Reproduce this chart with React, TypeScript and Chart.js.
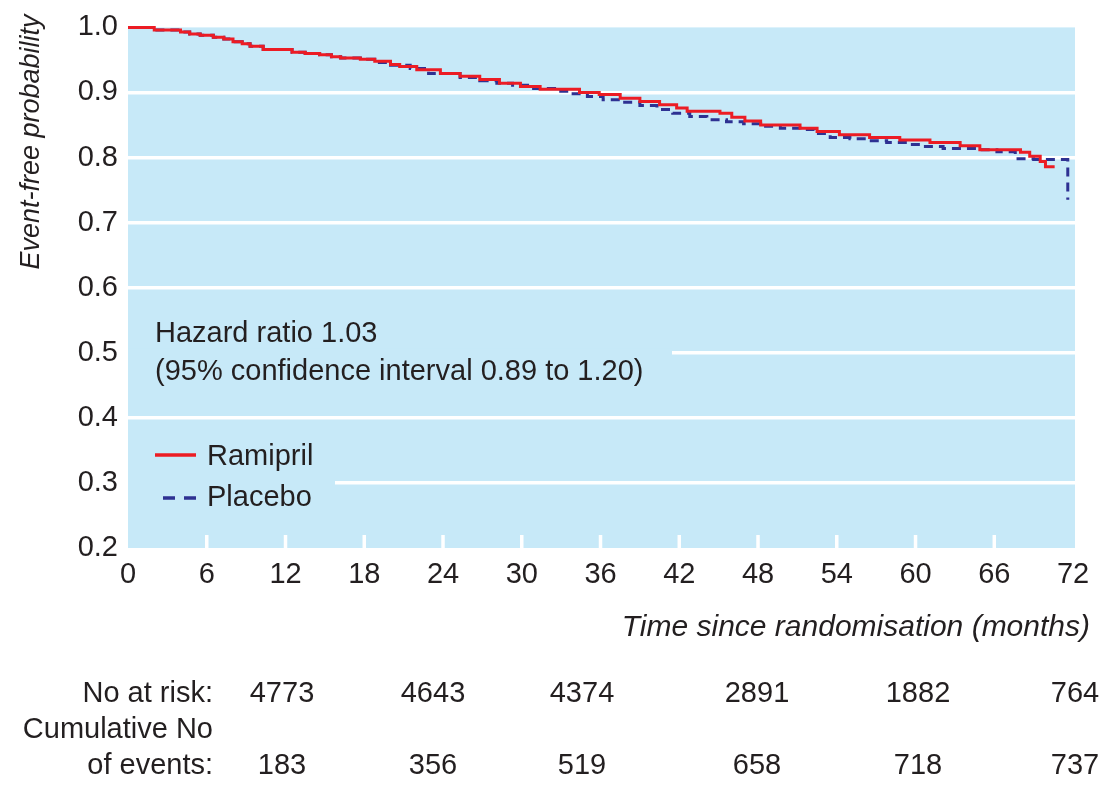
import React, { useEffect, useRef } from "react";
import { Chart, registerables } from "chart.js";

Chart.register(...registerables);

// ---------- data ----------
const xTickValues = [0, 6, 12, 18, 24, 30, 36, 42, 48, 54, 60, 66, 72];
const yTickValues = [0.2, 0.3, 0.4, 0.5, 0.6, 0.7, 0.8, 0.9, 1.0];

const seriesNames = ["Ramipril", "Placebo"];

const ramiprilTime = [
  0, 2.0, 4.0, 4.7, 5.5, 6.5, 7.3, 8.0, 8.7, 9.3, 10.3, 12.5, 13.5, 14.6, 15.5,
  16.2, 17.7, 18.8, 20.0, 20.7, 22.0, 23.8, 25.3, 26.8, 28.3, 29.9, 31.4, 34.4,
  35.9, 37.5, 39.0, 40.5, 41.8, 42.6, 45.1, 46.0, 47.0, 48.2, 51.2, 52.5, 54.2,
  56.5, 58.8, 61.1, 63.4, 64.9, 68.0, 68.7, 69.5, 69.9, 70.6,
];
const ramiprilSurv = [
  1.0, 0.996, 0.993, 0.99, 0.988, 0.985, 0.982, 0.978, 0.975, 0.971, 0.966,
  0.962, 0.96, 0.958, 0.955, 0.953, 0.951, 0.948, 0.943, 0.94, 0.935, 0.929,
  0.925, 0.92, 0.914, 0.909, 0.905, 0.9, 0.897, 0.891, 0.886, 0.881, 0.876,
  0.871, 0.868, 0.862, 0.856, 0.85, 0.845, 0.84, 0.835, 0.831, 0.827, 0.823,
  0.818, 0.812, 0.808, 0.802, 0.794, 0.786, 0.786,
];

const placeboTime = [
  0, 2.0, 4.0, 4.7, 5.5, 6.5, 7.3, 8.0, 8.7, 9.3, 10.3, 12.5, 13.5, 14.6, 15.5,
  16.2, 17.7, 18.8, 20.0, 21.5, 22.9, 25.3, 26.8, 28.1, 29.3, 30.9, 32.5, 33.7,
  35.0, 36.2, 37.7, 39.0, 40.3, 41.5, 42.8, 44.1, 45.6, 46.9, 48.2, 49.7, 51.2,
  52.3, 53.5, 55.0, 56.3, 57.8, 59.4, 60.6, 62.1, 64.9, 66.2, 67.6, 69.0, 71.6,
];
const placeboSurv = [
  1.0, 0.996, 0.993, 0.99, 0.988, 0.985, 0.982, 0.978, 0.975, 0.971, 0.966,
  0.962, 0.96, 0.958, 0.955, 0.953, 0.951, 0.946, 0.942, 0.937, 0.929, 0.923,
  0.918, 0.914, 0.911, 0.906, 0.902, 0.898, 0.894, 0.889, 0.885, 0.88, 0.874,
  0.868, 0.863, 0.858, 0.855, 0.852, 0.848, 0.845, 0.843, 0.837, 0.831, 0.829,
  0.826, 0.823, 0.82, 0.817, 0.814, 0.812, 0.809, 0.798, 0.797, 0.735,
];

const annotationLines = ["Hazard ratio 1.03", "(95% confidence interval 0.89 to 1.20)"];
const yTitle = "Event-free probability";
const xTitle = "Time since randomisation (months)";
const tableLabels = ["No at risk:", "Cumulative No", "of events:"];
const noAtRisk = ["4773", "4643", "4374", "2891", "1882", "764"];
const cumulativeEvents = ["183", "356", "519", "658", "718", "737"];

// ---------- styles ----------
const FONT = "'Liberation Sans', Arial, Helvetica, sans-serif";
const INK = "#231f20";
const PLOT_BG = "#c7e9f8";
const RED = "#ec1c24";
const BLUE = "#2e3192";
const DASH = [9, 6];

const tableColumnsX = [282, 433, 582, 757, 918, 1075];

const decorPlugin = {
  id: "decor",
  beforeDraw(chart: any) {
    const { ctx, chartArea: a } = chart;
    ctx.save();
    ctx.fillStyle = PLOT_BG;
    ctx.fillRect(a.left, a.top, a.right - a.left, a.bottom - a.top);
    ctx.restore();
  },
  beforeDatasetsDraw(chart: any) {
    const { ctx, chartArea: a, scales } = chart;
    const x = scales.x;
    const y = scales.y;
    ctx.save();
    // short white ticks along the bottom edge
    ctx.strokeStyle = "#ffffff";
    ctx.lineWidth = 3.5;
    xTickValues.forEach((v) => {
      if (v <= xTickValues[0] || v >= xTickValues[xTickValues.length - 1]) return;
      const px = x.getPixelForValue(v);
      ctx.beginPath();
      ctx.moveTo(px, a.bottom);
      ctx.lineTo(px, a.bottom - 13);
      ctx.stroke();
    });
    // text boxes hiding part of gridlines
    ctx.fillStyle = PLOT_BG;
    ctx.fillRect(a.left, y.getPixelForValue(0.5) - 4, 672 - a.left, 8);
    ctx.fillRect(a.left, y.getPixelForValue(0.3) - 4, 335 - a.left, 8);

    // annotation
    ctx.fillStyle = INK;
    ctx.font = `29px ${FONT}`;
    ctx.textAlign = "left";
    ctx.textBaseline = "middle";
    ctx.fillText(annotationLines[0], 155, 334);
    ctx.fillText(annotationLines[1], 155, 372);

    // legend
    const ds = chart.data.datasets;
    ctx.lineWidth = 3.5;
    ctx.strokeStyle = ds[0].borderColor;
    ctx.setLineDash([]);
    ctx.beginPath();
    ctx.moveTo(155, 455);
    ctx.lineTo(196, 455);
    ctx.stroke();
    ctx.strokeStyle = ds[1].borderColor;
    ctx.setLineDash([12, 9]);
    ctx.beginPath();
    ctx.moveTo(163, 498);
    ctx.lineTo(197, 498);
    ctx.stroke();
    ctx.setLineDash([]);
    ctx.fillText(seriesNames[0], 207, 457);
    ctx.fillText(seriesNames[1], 207, 498);
    ctx.restore();
  },
  afterDraw(chart: any) {
    const { ctx } = chart;
    ctx.save();
    ctx.fillStyle = INK;
    // y title
    ctx.font = `italic 27px ${FONT}`;
    ctx.textAlign = "center";
    ctx.textBaseline = "middle";
    ctx.translate(31, 142);
    ctx.rotate(-Math.PI / 2);
    ctx.fillText(yTitle, 0, 0);
    ctx.setTransform(1, 0, 0, 1, 0, 0);
    // x title
    ctx.font = `italic 30px ${FONT}`;
    ctx.textAlign = "right";
    ctx.fillText(xTitle, 1090, 628);
    // table
    ctx.font = `29px ${FONT}`;
    ctx.textAlign = "right";
    const rowsY = [694, 730, 766];
    tableLabels.forEach((t, i) => ctx.fillText(t, 213, rowsY[i]));
    ctx.textAlign = "center";
    noAtRisk.forEach((t, i) => ctx.fillText(t, tableColumnsX[i], rowsY[0]));
    cumulativeEvents.forEach((t, i) => ctx.fillText(t, tableColumnsX[i], rowsY[2]));
    ctx.restore();
  },
};

export default function App() {
  const canvasRef = useRef<HTMLCanvasElement | null>(null);

  useEffect(() => {
    const canvas = canvasRef.current;
    if (!canvas) return;
    const chart = new Chart(canvas, {
      type: "line",
      data: {
        datasets: [
          {
            label: seriesNames[0],
            data: ramiprilTime.map((t, i) => ({ x: t, y: ramiprilSurv[i] })),
            borderColor: RED,
            borderWidth: 3,
            pointRadius: 0,
            stepped: true,
            fill: false,
            clip: 6,
          },
          {
            label: seriesNames[1],
            data: placeboTime.map((t, i) => ({ x: t, y: placeboSurv[i] })),
            borderColor: BLUE,
            borderWidth: 3,
            borderDash: DASH,
            pointRadius: 0,
            stepped: true,
            fill: false,
            clip: 6,
          },
        ],
      },
      options: {
        animation: false,
        responsive: false,
        devicePixelRatio: 1,
        layout: { padding: { left: 0, top: 26, right: 25, bottom: 178 } },
        plugins: {
          legend: { display: false },
          tooltip: { enabled: false },
        },
        scales: {
          x: {
            type: "linear",
            min: 0,
            max: 72.15,
            afterBuildTicks: (scale: any) => {
              scale.ticks = xTickValues.map((v) => ({ value: v }));
            },
            afterFit: (scale: any) => {
              scale.height = 60;
            },
            grid: { display: false, drawTicks: false },
            border: { display: false },
            ticks: {
              autoSkip: false,
              maxRotation: 0,
              padding: 10,
              color: INK,
              font: { family: FONT, size: 29 },
              callback: (v: any) => String(v),
            },
          },
          y: {
            type: "linear",
            min: 0.2,
            max: 1.0,
            afterBuildTicks: (scale: any) => {
              scale.ticks = yTickValues.map((v) => ({ value: v }));
            },
            afterFit: (scale: any) => {
              scale.width = 128;
            },
            grid: {
              drawTicks: false,
              lineWidth: 3.5,
              color: (c: any) =>
                c.tick && (c.tick.value === yTickValues[0] || c.tick.value === yTickValues[yTickValues.length - 1])
                  ? "rgba(0,0,0,0)"
                  : "#ffffff",
            },
            border: { display: false },
            ticks: {
              padding: 10,
              color: INK,
              font: { family: FONT, size: 29 },
              callback: (v: any) => Number(v).toFixed(1),
            },
          },
        },
      },
      plugins: [decorPlugin],
    });
    return () => chart.destroy();
  }, []);

  return (
    <div style={{ position: "fixed", left: 0, top: 0, width: 1100, height: 786, background: "#ffffff" }}>
      <canvas ref={canvasRef} width={1100} height={786} style={{ display: "block", width: 1100, height: 786 }} />
    </div>
  );
}
